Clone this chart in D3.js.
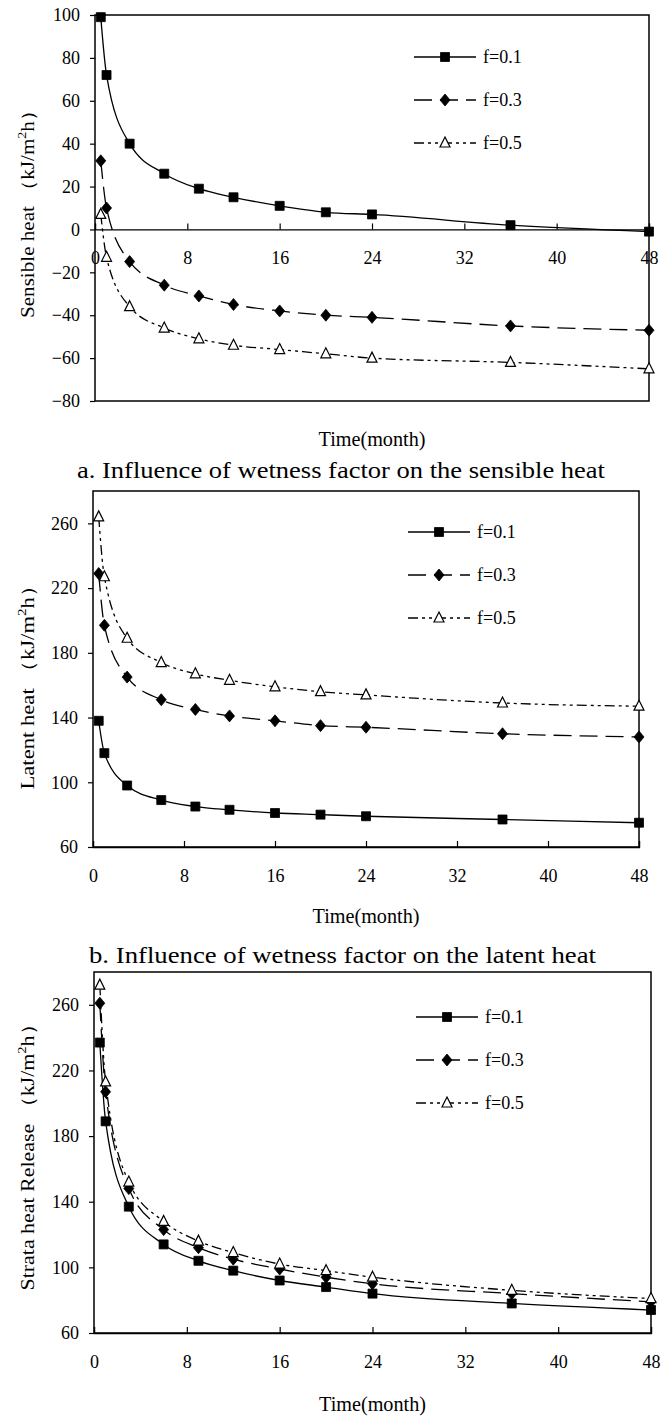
<!DOCTYPE html>
<html>
<head>
<meta charset="utf-8">
<script src="https://cdn.jsdelivr.net/npm/d3@7"></script>
<style>
  body { margin: 0; background: #fff; }
  svg { display: block; }
</style>
</head>
<body>
<svg width="672" height="1416"></svg>
<script>
// time of the marked points (months)
const months = [0.5, 1, 3, 6, 9, 12, 16, 20, 24, 36, 48];
const seriesNames = ["f=0.1", "f=0.3", "f=0.5"];

// a. sensible heat
const sensible01 = [99, 72, 40, 26, 19, 15, 11, 8, 7, 2, -1];
const sensible03 = [32, 10, -15, -26, -31, -35, -38, -40, -41, -45, -47];
const sensible05 = [7, -13, -36, -46, -51, -54, -56, -58, -60, -62, -65];

// b. latent heat
const latent01 = [138, 118, 98, 89, 85, 83, 81, 80, 79, 77, 75];
const latent03 = [229, 197, 165, 151, 145, 141, 138, 135, 134, 130, 128];
const latent05 = [264, 227, 189, 174, 167, 163, 159, 156, 154, 149, 147];

// c. strata heat release
const strata01 = [237, 189, 137, 114, 104, 98, 92, 88, 84, 78, 74];
const strata03 = [261, 207, 148, 123, 112, 105, 99, 94, 90, 84, 79];
const strata05 = [272, 213, 152, 128, 116, 109, 102, 98, 94, 86, 81];

// tick labels
const xTicks = [0, 8, 16, 24, 32, 40, 48];
const sensibleTicks = [-80, -60, -40, -20, 0, 20, 40, 60, 80, 100];
const latentTicks = [60, 100, 140, 180, 220, 260];
const strataTicks = [60, 100, 140, 180, 220, 260];

const FONT = "'Liberation Serif', 'Times New Roman', Times, serif";

// layout of the three panels
const panels = [
  { box: [95, 15, 649, 401], yDomain: [-80, 100], yTicks: sensibleTicks, xAxisAt: 0,
    series: [sensible01, sensible03, sensible05],
    yTitle: "Sensible heat ", yTitleLen: 218, yTitleC: 209,
    xTitleY: 446, caption: "a. Influence of wetness factor on the sensible heat",
    capX: 77, capW: 528, capY: 478, legend: [414, 57] },
  { box: [93, 491, 639, 847], yDomain: [60, 280], yTicks: latentTicks, xAxisAt: 60,
    series: [latent01, latent03, latent05],
    yTitle: "Latent heat ", yTitleLen: 215, yTitleC: 682,
    xTitleY: 923, caption: "b. Influence of wetness factor on the latent heat",
    capX: 89, capW: 507, capY: 963, legend: [408, 532] },
  { box: [94, 972, 651, 1333], yDomain: [60, 280], yTicks: strataTicks, xAxisAt: 60,
    series: [strata01, strata03, strata05],
    yTitle: "Strata heat Release ", yTitleLen: 277, yTitleC: 1152,
    xTitleY: 1411, caption: null, legend: [416, 1017] }
];

const dashes = [null, "18,8", "10,4,3,4,3,4"];

// marker shapes
const square = { draw(ctx) { ctx.rect(-4.5, -4.5, 9, 9); } };
const diamond = { draw(ctx) { ctx.moveTo(0, -6); ctx.lineTo(5, 0); ctx.lineTo(0, 6); ctx.lineTo(-5, 0); ctx.closePath(); } };
const triangle = { draw(ctx) { ctx.moveTo(0, -6); ctx.lineTo(5, 4); ctx.lineTo(-5, 4); ctx.closePath(); } };
const shapes = [square, diamond, triangle];

const svg = d3.select("svg").attr("font-family", FONT);

function marker(g, i, x, y) {
  g.append("path")
    .attr("d", d3.symbol().type(shapes[i])())
    .attr("transform", `translate(${x},${y})`)
    .attr("fill", i == 2 ? "#fff" : "#000")
    .attr("stroke", "#000")
    .attr("stroke-width", i == 2 ? 1.2 : 0.8);
}

panels.forEach(p => {
  const [x0, y0, x1, y1] = p.box;
  const x = d3.scaleLinear().domain([0, 48]).range([x0, x1]);
  const y = d3.scaleLinear().domain(p.yDomain).range([y1, y0]);
  const g = svg.append("g");

  // y axis, ticks outside
  const yAxis = g.append("g")
    .attr("transform", `translate(${x0},0)`)
    .call(d3.axisLeft(y).tickValues(p.yTicks).tickSize(5).tickPadding(10).tickFormat(d3.format("d")))
    .attr("font-family", FONT).attr("font-size", 18);
  yAxis.select(".domain").remove();
  yAxis.selectAll("line").attr("stroke", "#000").attr("stroke-width", 1.2);
  yAxis.selectAll("text").attr("fill", "#000");

  // x axis, ticks inside
  const xa = y(p.xAxisAt);
  const xAxis = g.append("g")
    .attr("transform", `translate(0,${xa})`)
    .call(d3.axisBottom(x).tickValues(xTicks).tickSize(-6).tickPadding(22))
    .attr("font-family", FONT).attr("font-size", 18);
  xAxis.select(".domain").attr("stroke", "#000").attr("stroke-width", 1.3);
  xAxis.selectAll("line").attr("stroke", "#000").attr("stroke-width", 1.2);
  xAxis.selectAll("text").attr("fill", "#000");

  // frame
  g.append("rect")
    .attr("x", x0).attr("y", y0)
    .attr("width", x1 - x0).attr("height", y1 - y0)
    .attr("fill", "none").attr("stroke", "#000").attr("stroke-width", 1.5);

  // series lines
  const line = d3.line()
    .x((d, i) => x(months[i]))
    .y(d => y(d))
    .curve(d3.curveMonotoneX);

  p.series.forEach((s, i) => {
    g.append("path")
      .datum(s)
      .attr("d", line)
      .attr("fill", "none")
      .attr("stroke", "#000")
      .attr("stroke-width", 1.3)
      .attr("stroke-dasharray", dashes[i]);
  });
  p.series.forEach((s, i) => {
    s.forEach((v, j) => marker(g, i, x(months[j]), y(v)));
  });

  // legend
  const [lx, ly] = p.legend;
  seriesNames.forEach((name, i) => {
    const yy = ly + i * 43;
    g.append("line")
      .attr("x1", lx).attr("x2", lx + 62)
      .attr("y1", yy).attr("y2", yy)
      .attr("stroke", "#000").attr("stroke-width", 1.3)
      .attr("stroke-dasharray", dashes[i]);
    marker(g, i, lx + 31, yy);
    g.append("text")
      .attr("x", lx + 69).attr("y", yy + 6)
      .attr("font-family", FONT)
      .attr("font-size", 18)
      .text(name);
  });

  // y title
  const yt = g.append("text")
    .attr("transform", `translate(34,${p.yTitleC}) rotate(-90)`)
    .attr("text-anchor", "middle")
    .attr("font-family", FONT)
    .attr("font-size", 18)
    .attr("textLength", p.yTitleLen)
    .attr("lengthAdjust", "spacingAndGlyphs");
  yt.append("tspan").text(p.yTitle + "（kJ/m");
  yt.append("tspan").attr("dy", -8).attr("font-size", 12).text("2");
  yt.append("tspan").attr("dy", 8).text("h）");

  // x title
  g.append("text")
    .attr("x", (x0 + x1) / 2).attr("y", p.xTitleY)
    .attr("text-anchor", "middle")
    .attr("font-family", FONT)
    .attr("font-size", 21)
    .attr("textLength", 107)
    .attr("lengthAdjust", "spacingAndGlyphs")
    .text("Time(month)");

  // caption
  if (p.caption) {
    g.append("text")
      .attr("x", p.capX).attr("y", p.capY)
      .attr("font-family", FONT)
      .attr("font-size", 23)
      .attr("textLength", p.capW)
      .attr("lengthAdjust", "spacingAndGlyphs")
      .text(p.caption);
  }
});
</script>
</body>
</html>
